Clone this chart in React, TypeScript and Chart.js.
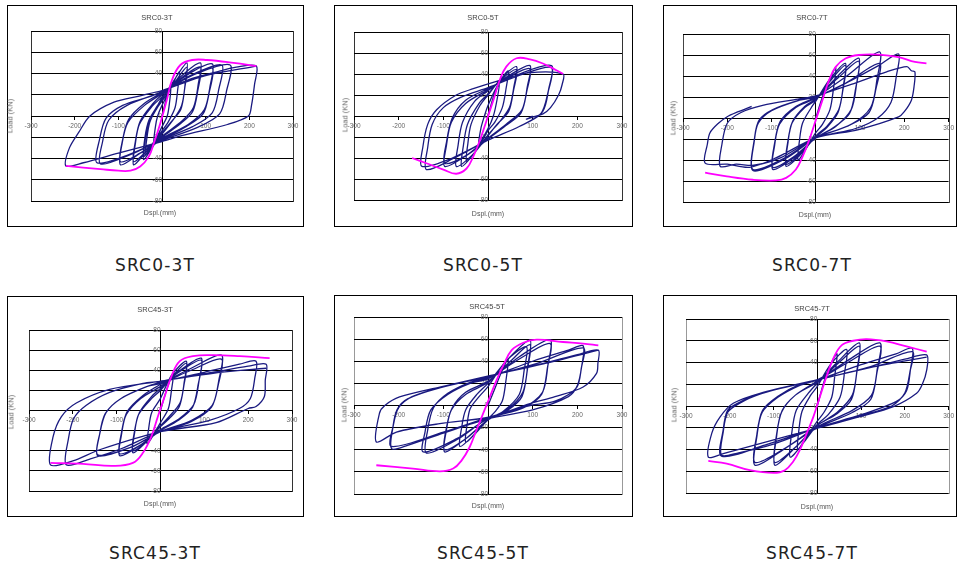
import React, { useEffect, useRef } from "react";
import { Chart, registerables } from "chart.js";
Chart.register(...registerables);

type Pt = [number, number];

// ---------------- data ----------------
const PANEL_TITLES = ["SRC0-3T", "SRC0-5T", "SRC0-7T", "SRC45-3T", "SRC45-5T", "SRC45-7T"];
const X_MIN = -300, X_MAX = 300, X_STEP = 100;
const Y_MIN = -80, Y_MAX = 80, Y_STEP = 20;
const X_LABEL = "Dspl.(mm)";
const Y_LABEL = "Load (KN)";

const SRC0_3T_LOOP: Pt[] = [
  [0,0],[10,16],[20,27],
  [17,12],[12,0],[0,-10],[-18,-24],
  [-15,-10],[-10,0],[0,10],[20,26],[40,42],
  [36,25],[30,8],[15,-5],[0,-14],[-20,-25],[-38,-37],
  [-35,-22],[-28,-6],[-12,8],[0,16],[25,32],[57,50],
  [53,30],[45,10],[25,-4],[0,-17],[-20,-28],[-42,-41],
  [-39,-24],[-31,-8],[-12,7],[0,14],[30,32],[57,46],
  [52,26],[43,6],[20,-6],[0,-16],[-25,-29],[-42,-38],
  [-39,-20],[-30,-4],[-10,10],[0,17],[40,36],[88,50],
  [83,30],[72,8],[45,-5],[0,-19],[-35,-33],[-65,-46],
  [-61,-26],[-52,-8],[-25,8],[0,18],[45,36],[88,46],
  [82,24],[70,4],[40,-8],[0,-20],[-35,-33],[-65,-43],
  [-61,-24],[-50,-5],[-20,12],[0,20],[55,38],[115,49],
  [110,28],[97,6],[60,-8],[0,-21],[-50,-35],[-95,-46],
  [-91,-25],[-78,-6],[-40,10],[0,21],[60,37],[115,45],
  [108,22],[94,2],[55,-10],[0,-22],[-50,-35],[-95,-43],
  [-90,-22],[-76,-3],[-40,12],[0,22],[70,39],[137,48],
  [130,25],[115,3],[70,-10],[0,-22],[-70,-36],[-141,-45],
  [-136,-24],[-122,-4],[-80,10],[0,23],[80,40],[156,48],
  [148,24],[132,2],[80,-11],[0,-23],[-80,-37],[-149,-44],
  [-143,-22],[-128,-2],[-90,10],[-30,18],[0,23],[60,34],[130,42],[170,46],[216,47],
  [212,30],[205,10],[198,0],[150,-8],[50,-18],[0,-24],[-100,-35],[-180,-44],[-220,-47],
  [-212,-30],[-190,-15],[-165,0],[-110,13],[-50,19],[0,24],[100,38],[216,47],
];
const SRC0_3T_ENV: Pt[] = [
  [-220,-47],[-141,-50],[-100,-51.5],[-72,-51.4],[-50,-47.6],[-30,-38],[-19,-26],[-4,-7],
  [11,15],[23,34],[42,48],[69,52.7],[103,52.7],[164,50],[216,47],
];

const SRC0_5T_LOOP: Pt[] = [
  [0,0],[12,18],[25,30],
  [20,15],[12,0],[0,-12],[-20,-26],
  [-16,-12],[-8,0],[0,10],[20,28],[45,43],
  [40,25],[32,8],[15,-6],[0,-14],[-25,-32],[-48,-43],
  [-45,-26],[-38,-8],[-18,10],[0,20],[30,36],[64,47],
  [58,28],[48,8],[25,-6],[0,-18],[-30,-35],[-59,-48],
  [-55,-28],[-46,-8],[-20,12],[0,21],[30,35],[64,44],
  [57,24],[46,4],[20,-8],[0,-19],[-35,-37],[-71,-48],
  [-67,-28],[-57,-6],[-30,14],[0,24],[45,38],[94,48],
  [88,28],[76,6],[40,-8],[0,-21],[-50,-38],[-97,-48],
  [-93,-28],[-82,-6],[-50,12],[0,25],[50,38],[94,45],
  [87,24],[74,3],[40,-9],[0,-22],[-50,-38],[-97,-45],
  [-93,-25],[-80,-2],[-50,15],[0,26],[70,40],[142,48],
  [136,26],[122,4],[70,-10],[0,-23],[-75,-40],[-138,-51],
  [-135,-30],[-125,-8],[-100,8],[-60,18],[0,27],[80,40],[142,46],
  [134,22],[118,2],[70,-10],[0,-23],[-80,-40],[-148,-48],
  [-146,-30],[-135,-8],[-115,6],[-71,20],[-33,26],[19,33],[90,41],[168,40],
  [166,30],[158,20],[140,8],[123,2],[100,-1],[86,-3],[92,-2],[100,0],
];
const SRC0_5T_ENV: Pt[] = [
  [-170,-40],[-138,-45],[-100,-51],[-71,-55],[-48,-50],[-33,-38.6],[-18,-23],[-3,-4],
  [12,15],[26,34],[41,47],[64,55],[94,54],[123,50],[153,43.6],[168,40],
];

const SRC0_7T_LOOP: Pt[] = [
  [0,0],[15,20],[30,35],[45,48],
  [40,28],[32,8],[15,-6],[0,-14],[-20,-28],[-40,-40],
  [-37,-22],[-30,-5],[-10,10],[0,16],[30,36],[67,52],
  [62,30],[52,8],[25,-8],[0,-17],[-35,-35],[-67,-46],
  [-63,-24],[-54,-5],[-25,10],[0,17],[30,34],[67,50],
  [61,26],[50,5],[25,-9],[0,-18],[-35,-34],[-67,-44],
  [-63,-22],[-52,-3],[-25,11],[0,18],[45,38],[97,57],
  [92,32],[80,8],[45,-8],[0,-19],[-50,-38],[-97,-49],
  [-93,-26],[-82,-6],[-45,10],[0,19],[50,38],[97,54],
  [90,28],[76,4],[40,-9],[0,-19],[-50,-37],[-97,-47],
  [-93,-24],[-80,-3],[-45,11],[0,20],[70,40],[144,63],
  [138,36],[124,10],[80,-6],[0,-19],[-70,-38],[-142,-49],
  [-139,-22],[-130,-5],[-100,7],[-37,17],[0,20],[67,33],[144,52],
  [136,28],[120,5],[70,-8],[0,-19],[-70,-39],[-142,-50],
  [-138,-18],[-128,-2],[-97,8],[-37,17],[0,20],[67,33],[142,50],[187,61],
  [182,40],[170,15],[140,0],[90,-10],[0,-19],[-80,-38],[-140,-45],[-180,-44],[-216,-46],
  [-212,-25],[-200,-5],[-170,5],[-120,12],[-40,18],[0,21],[80,32],[160,44],[206,49],[216,45],[224,44],
  [222,30],[216,17],[200,6],[187,1],[97,-11],[0,-19],[-90,-38],[-150,-47],[-200,-44],[-250,-43],
  [-245,-25],[-239,-14],[-220,-5],[-201,1],[-175,6],[-145,11],
];
const SRC0_7T_ENV: Pt[] = [
  [-250,-52],[-201,-55.6],[-142,-58.8],[-90,-59.4],[-67,-57],[-45,-49],[-30,-37],[-15,-21],
  [0,-2],[15,17],[30,36],[45,48.7],[67,56.6],[97,60],[142,60.4],[187,58],[224,53.4],[250,52],
];

const SRC45_3T_LOOP: Pt[] = [
  [0,0],[15,22],[30,38],
  [25,20],[18,2],[0,-12],[-30,-33],
  [-27,-18],[-20,-2],[0,12],[25,35],[59,49],
  [54,28],[45,8],[20,-6],[0,-15],[-30,-30],[-63,-42],
  [-59,-22],[-50,-4],[-20,12],[0,20],[25,33],[59,47],
  [53,24],[43,4],[20,-8],[0,-16],[-30,-30],[-63,-40],
  [-59,-20],[-48,-2],[-20,14],[0,22],[45,40],[93,52],
  [88,30],[76,6],[40,-9],[0,-19],[-45,-34],[-93,-45],
  [-89,-24],[-78,-4],[-45,12],[0,24],[45,39],[93,50],
  [86,26],[73,3],[40,-10],[0,-20],[-45,-34],[-93,-43],
  [-89,-22],[-76,-1],[-40,15],[0,26],[70,42],[139,55],
  [133,30],[118,5],[70,-10],[0,-21],[-70,-37],[-143,-45],
  [-139,-24],[-126,-3],[-90,12],[-30,24],[0,27],[70,40],[139,51],
  [132,26],[116,3],[70,-11],[0,-21],[-70,-37],[-143,-44],
  [-138,-22],[-124,-2],[-90,12],[-30,24],[0,28],[100,38],[180,46],[218,49],
  [215,32],[205,12],[180,2],[110,-10],[0,-21],[-90,-38],[-160,-48],[-215,-54],
  [-210,-28],[-198,-8],[-170,5],[-116,18],[-40,27],[0,29],[120,38],[200,44],[241,46],
  [239,30],[237,14],[218,4],[200,2],[127,-12],[0,-21],[-139,-39],[-200,-50],[-251,-54],
  [-245,-26],[-226,-6],[-192,7.5],[-116,21],[-2,29],[120,37],[241,42],
];
const SRC45_3T_ENV: Pt[] = [
  [-251,-52],[-177,-53],[-108,-55],[-63,-52],[-40,-42],[-21,-26],[-6,-6],[9.5,14],
  [25,34],[44,49],[74,54],[120,55],[181,54],[249,52],
];

const SRC45_5T_LOOP: Pt[] = [
  [0,0],[15,15],[30,30],[45,42],
  [40,22],[32,4],[15,-6],[0,-12],[-30,-26],[-50,-33],
  [-47,-18],[-40,-3],[-20,8],[0,17],[40,40],[86,53],
  [81,32],[70,10],[35,-5],[0,-13],[-30,-26],[-63,-37],
  [-59,-20],[-50,-4],[-25,10],[0,20],[45,42],[94,59],
  [89,36],[78,12],[45,-3],[0,-13],[-50,-30],[-97,-42],
  [-93,-22],[-82,-4],[-50,10],[0,21],[50,40],[94,55],
  [88,32],[76,8],[45,-4],[0,-13],[-50,-30],[-97,-40],
  [-93,-20],[-80,-2],[-50,12],[0,22],[70,44],[139,59.5],
  [134,36],[122,12],[80,-2],[0,-12],[-70,-30],[-145,-42],
  [-141,-24],[-128,-4],[-90,10],[-40,20],[0,24],[70,42],[139,56],
  [133,34],[120,10],[80,-2],[0,-12],[-70,-31],[-138,-43],
  [-135,-22],[-122,-2],[-90,11],[-40,21],[0,25],[100,40],[180,50],[213,54],
  [210,36],[200,18],[180,8],[100,-4],[0,-12],[-100,-25],[-180,-36],[-216,-39],
  [-213,-20],[-204,-4],[-180,6],[-108,16],[0,26],[110,38],[213,52],
  [209,34],[198,16],[150,4],[94,0],[0,-11],[-100,-24],[-216,-37],
  [-212,-18],[-200,-2],[-170,8],[-100,17],[4,27],[124,38],[200,46],[247,50],
  [246,38],[243,29],[213,16.7],[150,8],[94,1.7],[4,-10.4],[-108,-16.4],[-205,-24],[-250,-33],
  [-243,-7],[-231,0],[-198,7.7],[-108,16.7],[4,27],[124,37.7],[247,50],
];
const SRC45_5T_ENV: Pt[] = [
  [-250,-54],[-168,-57],[-108,-59.5],[-78,-57],[-59,-49.6],[-41,-37.5],[-26,-22.4],[-11,-7.4],
  [4,7.7],[19,22.7],[34,36],[53,50],[79,56.7],[109,59.5],[168,57.4],[213,56],[247,54.4],
];

const SRC45_7T_LOOP: Pt[] = [
  [0,0],[15,22],[30,38],[45,48],
  [40,28],[33,8],[15,-6],[0,-14],[-30,-32],[-45,-40],
  [-42,-22],[-35,-5],[-15,10],[0,18],[30,38],[67,52],
  [62,30],[52,8],[25,-8],[0,-17],[-30,-33],[-62,-47],
  [-58,-24],[-48,-4],[-20,12],[0,21],[45,40],[96,58],
  [91,34],[80,10],[45,-6],[0,-18],[-50,-38],[-97,-54.5],
  [-93,-28],[-82,-6],[-50,10],[0,22],[50,40],[96,55],
  [90,30],[78,6],[45,-7],[0,-18],[-50,-38],[-97,-52],
  [-93,-26],[-80,-4],[-50,10],[0,23],[70,42],[143,58],
  [137,34],[124,10],[80,-4],[0,-19],[-70,-38],[-142,-54.5],
  [-138,-28],[-126,-6],[-90,8],[-40,19],[0,24],[70,40],[143,55],
  [136,30],[122,6],[80,-6],[0,-20],[-70,-38],[-142,-52],
  [-138,-26],[-125,-4],[-90,9],[-40,20],[0,24],[100,38],[180,48],[217,53],
  [213,34],[204,14],[180,4],[100,-8],[0,-20],[-100,-35],[-180,-43],[-219,-45],
  [-215,-24],[-205,-6],[-180,2],[-131,11],[0,24],[120,36],[217,50],
  [212,32],[200,12],[170,0],[97,-9],[0,-20],[-120,-36],[-219,-46],
  [-215,-22],[-205,-4],[-180,3],[-131,11.7],[-1.5,24],[128,36],[200,43],[250,47],
  [250,33],[240,20],[227,11.7],[174,-0.6],[97,-9.8],[-1.5,-20.6],[-131,-34.5],[-215,-43.7],[-249,-47],
  [-241,-25],[-222,-10],[-192,2.5],[-131,11.7],[-1.5,24],[128,36],[250,45],
];
const SRC45_7T_ENV: Pt[] = [
  [-249,-50.5],[-207,-53],[-154,-59],[-100,-61.5],[-74,-59],[-55,-51],[-40,-40.6],[-24,-25],
  [-9,-10],[6,8.6],[21,27],[37,44],[56,56],[82,60],[113,61.5],[158,59.4],[204,54.8],[250,50],
];

const LOOPS: Pt[][] = [SRC0_3T_LOOP, SRC0_5T_LOOP, SRC0_7T_LOOP, SRC45_3T_LOOP, SRC45_5T_LOOP, SRC45_7T_LOOP];
const ENVELOPES: Pt[][] = [SRC0_3T_ENV, SRC0_5T_ENV, SRC0_7T_ENV, SRC45_3T_ENV, SRC45_5T_ENV, SRC45_7T_ENV];

// ---------------- layout (page coordinates) ----------------
type Layout = {
  left: number; top: number; w: number; h: number;
  plot: [number, number, number, number];
  title: [number, number]; ylab: [number, number]; xlab: [number, number]; caption: [number, number];
  frame: string;
};
const LAYOUTS: Layout[] = [
  { left: 7, top: 5, w: 297, h: 222, plot: [31, 31, 293, 201], title: [157, 17], ylab: [10, 116], xlab: [160, 212], caption: [155, 265], frame: "#333" },
  { left: 334, top: 5, w: 299, h: 222, plot: [354, 32, 622, 200], title: [483, 17], ylab: [345, 115], xlab: [488, 213], caption: [483, 265], frame: "#333" },
  { left: 663, top: 5, w: 294, h: 222, plot: [683, 34, 951, 202], title: [812, 17], ylab: [673, 118], xlab: [815, 214], caption: [812, 265], frame: "#444" },
  { left: 7, top: 296, w: 297, h: 221, plot: [29, 330, 292, 491], title: [155, 309], ylab: [11, 412], xlab: [160, 503], caption: [155, 553], frame: "#333" },
  { left: 334, top: 295, w: 299, h: 222, plot: [354, 317, 622, 494], title: [487, 306], ylab: [344, 405], xlab: [488, 505], caption: [483, 553], frame: "#999" },
  { left: 663, top: 295, w: 294, h: 222, plot: [686, 319, 949, 493], title: [812, 308], ylab: [674, 405], xlab: [817, 506], caption: [812, 553], frame: "#999" },
];

const SMALL_FONT = "'Liberation Sans', Arial, sans-serif";

const framePlugin = {
  id: "frame",
  beforeDraw(chart: any, _args: any, opts: any) {
    const { ctx, chartArea: a, width, height } = chart;
    ctx.save();
    ctx.fillStyle = "#fff";
    ctx.fillRect(0, 0, width, height);
    ctx.strokeStyle = "#000";
    ctx.lineWidth = 1;
    ctx.strokeRect(0.5, 0.5, width - 1, height - 1);
    ctx.strokeStyle = opts.color || "#333";
    ctx.strokeRect(Math.round(a.left) + 0.5, Math.round(a.top) + 0.5, Math.round(a.right - a.left), Math.round(a.bottom - a.top));
    ctx.restore();
  },
};

function Panel({ idx }: { idx: number }) {
  const ref = useRef<HTMLCanvasElement | null>(null);
  const L = LAYOUTS[idx];
  useEffect(() => {
    if (!ref.current) return;
    const [pl, pt, pr, pb] = L.plot;
    const chart = new Chart(ref.current, {
      type: "scatter",
      data: {
        datasets: [
          {
            data: ENVELOPES[idx].map(([x, y]) => ({ x, y })),
            showLine: true,
            borderColor: "#ff00ff",
            borderWidth: 1.8,
            pointRadius: 0,
            tension: 0.4,
            fill: false,
          },
          {
            data: LOOPS[idx].map(([x, y]) => ({ x, y })),
            showLine: true,
            borderColor: "#1a1a80",
            borderWidth: 1.3,
            pointRadius: 0,
            tension: 0.3,
            fill: false,
          },
        ],
      },
      options: {
        animation: false,
        responsive: false,
        events: [],
        layout: {
          padding: { left: pl - L.left, top: pt - L.top, right: L.left + L.w - pr, bottom: L.top + L.h - pb },
        },
        plugins: {
          legend: { display: false },
          tooltip: { enabled: false },
          frame: { color: L.frame },
        } as any,
        scales: {
          x: {
            type: "linear",
            min: X_MIN,
            max: X_MAX,
            position: { y: 0 } as any,
            ticks: {
              stepSize: X_STEP,
              autoSkip: false,
              maxRotation: 0,
              padding: 3,
              color: "#666",
              font: { size: 6.5, family: SMALL_FONT },
              callback: (v: any) => (Number(v) === 0 ? "" : String(v)),
            },
            grid: { drawOnChartArea: false, drawTicks: true, tickLength: 3, color: "#000" },
            border: { color: "#000", width: 1 },
          },
          y: {
            type: "linear",
            min: Y_MIN,
            max: Y_MAX,
            position: { x: 0 } as any,
            ticks: {
              stepSize: Y_STEP,
              autoSkip: false,
              padding: 1,
              color: "#666",
              font: { size: 6.5, family: SMALL_FONT },
            },
            grid: { color: "#000", lineWidth: 1, drawTicks: true, tickLength: 3 },
            border: { color: "#000", width: 1 },
          },
        },
      },
      plugins: [framePlugin as any],
    });
    return () => chart.destroy();
  }, [idx]);

  const center: React.CSSProperties = { position: "absolute", transform: "translate(-50%, -50%)", whiteSpace: "nowrap" };
  return (
    <>
      <canvas
        ref={ref}
        width={L.w}
        height={L.h}
        style={{ position: "absolute", left: L.left, top: L.top, width: L.w, height: L.h }}
      />
      <div style={{ ...center, left: L.title[0], top: L.title[1], fontFamily: SMALL_FONT, fontSize: 7.5, color: "#444" }}>
        {PANEL_TITLES[idx]}
      </div>
      <div style={{ ...center, left: L.ylab[0], top: L.ylab[1], transform: "translate(-50%, -50%) rotate(-90deg)", fontFamily: SMALL_FONT, fontSize: 7.5, color: "#666" }}>
        {Y_LABEL}
      </div>
      <div style={{ ...center, left: L.xlab[0], top: L.xlab[1], fontFamily: SMALL_FONT, fontSize: 7, color: "#555" }}>
        {X_LABEL}
      </div>
      <div style={{ ...center, left: L.caption[0], top: L.caption[1], fontFamily: "'DejaVu Sans', sans-serif", fontSize: 17, letterSpacing: 1.2, color: "#222" }}>
        {PANEL_TITLES[idx]}
      </div>
    </>
  );
}

export default function App() {
  return (
    <div style={{ position: "absolute", left: 0, top: 0, width: 959, height: 565, background: "#fff", overflow: "hidden" }}>
      {PANEL_TITLES.map((_, i) => (
        <Panel key={i} idx={i} />
      ))}
    </div>
  );
}
